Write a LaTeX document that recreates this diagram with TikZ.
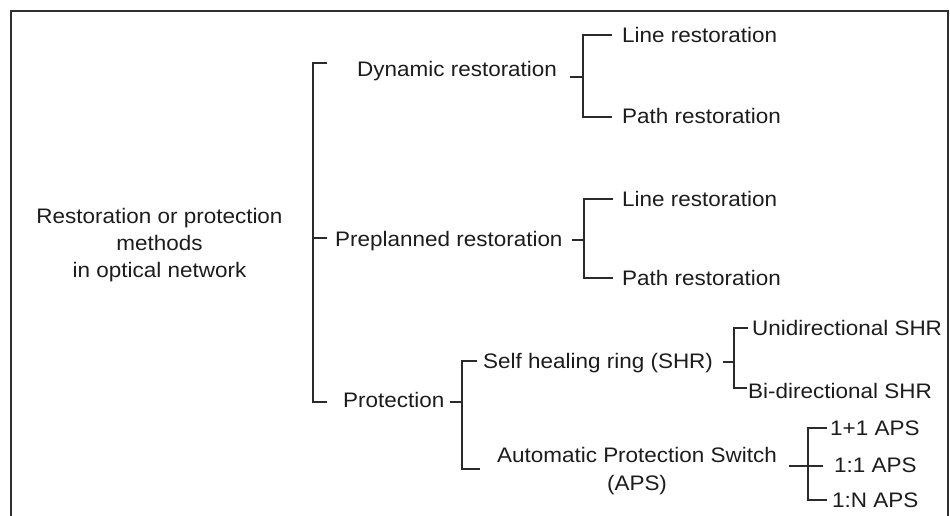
\documentclass[tikz,border=0pt]{standalone}
\usepackage{fontspec}
\setmainfont{Liberation Sans}[FakeStretch=1.07]
\definecolor{ink}{HTML}{1C1C1C}
\definecolor{wire}{HTML}{2A2A2A}
\definecolor{frame}{HTML}{303030}
\begin{document}
\begin{tikzpicture}[x=1pt,y=-1pt,
  term/.style={inner sep=0pt, anchor=base west, text=ink,
    font=\fontsize{21}{27}\selectfont},
  multi/.style={inner sep=0pt, anchor=base, align=center, text=ink,
    font=\fontsize{21}{27}\selectfont},
  link/.style={draw=wire, line width=2pt, line cap=butt, line join=miter}]
\useasboundingbox (0,0) rectangle (950,516);

% outer frame, open at the bottom
\coordinate (fbl) at (11,516);
\coordinate (ftl) at (11,11);
\coordinate (ftr) at (948,11);
\coordinate (fbr) at (948,516);
\draw[draw=frame, line width=2.4pt] (fbl) -- (ftl) -- (ftr) -- (fbr);

% labels (multi-line nodes are placed by the baseline of their last line)
\node[multi] (root) at (159.5,277) {Restoration or protection\\methods\\in optical network};
\node[term] (dyn) at (357,77) {Dynamic restoration};
\node[term] (pre) at (335,246) {Preplanned restoration};
\node[term] (prot) at (343,407) {Protection};
\node[term] (dynline) at (622,43) {Line restoration};
\node[term] (dynpath) at (622,124) {Path restoration};
\node[term] (preline) at (622,206) {Line restoration};
\node[term] (prepath) at (622,285) {Path restoration};
\node[term] (shr) at (483,368) {Self healing ring (SHR)};
\node[term] (uni) at (752,335) {Unidirectional SHR};
\node[term] (bi) at (748,398) {Bi-directional SHR};
\node[multi] (aps) at (637,490) {Automatic Protection Switch\\[1pt](APS)};
\node[term] (aps11) at (830,435) {1+1 APS};
\node[term] (aps1to1) at (834,472) {1:1 APS};
\node[term] (aps1toN) at (832,507) {1:N APS};

% root bracket
\coordinate (rA) at (327,63);  \coordinate (rT) at (313,63);
\coordinate (rB) at (327,402); \coordinate (rD) at (313,402);
\coordinate (rM) at (313,238); \coordinate (rMe) at (327,238);
\draw[link] (rA) -- (rT) -- (rD) -- (rB);
\draw[link] (rM) -- (rMe);

% dynamic restoration bracket
\coordinate (dS) at (570,77); \coordinate (dJ) at (583,77);
\coordinate (dT) at (583,35); \coordinate (dTe) at (612,35);
\coordinate (dB) at (583,117); \coordinate (dBe) at (612,117);
\draw[link] (dTe) -- (dT) -- (dB) -- (dBe);
\draw[link] (dS) -- (dJ);

% preplanned restoration bracket
\coordinate (pS) at (572,240); \coordinate (pJ) at (584,240);
\coordinate (pT) at (584,199); \coordinate (pTe) at (613,199);
\coordinate (pB) at (584,278); \coordinate (pBe) at (613,278);
\draw[link] (pTe) -- (pT) -- (pB) -- (pBe);
\draw[link] (pS) -- (pJ);

% protection bracket
\coordinate (qS) at (450,402); \coordinate (qJ) at (462,402);
\coordinate (qT) at (462,361); \coordinate (qTe) at (477,361);
\coordinate (qB) at (462,469); \coordinate (qBe) at (480,469);
\draw[link] (qTe) -- (qT) -- (qB) -- (qBe);
\draw[link] (qS) -- (qJ);

% self healing ring bracket
\coordinate (sS) at (723,362); \coordinate (sJ) at (734,362);
\coordinate (sT) at (734,328); \coordinate (sTe) at (748,328);
\coordinate (sB) at (734,388); \coordinate (sBe) at (747,388);
\draw[link] (sTe) -- (sT) -- (sB) -- (sBe);
\draw[link] (sS) -- (sJ);

% APS bracket, its stem runs through the spine
\coordinate (aS) at (789,466); \coordinate (aE) at (823,466);
\coordinate (aT) at (808,428); \coordinate (aTe) at (827,428);
\coordinate (aB) at (808,500); \coordinate (aBe) at (827,500);
\draw[link] (aTe) -- (aT) -- (aB) -- (aBe);
\draw[link] (aS) -- (aE);
\end{tikzpicture}
\end{document}
